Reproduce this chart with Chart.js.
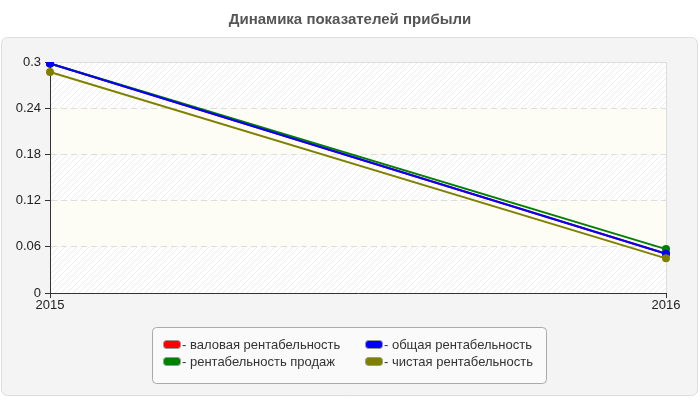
<!DOCTYPE html>
<html>
<head>
<meta charset="utf-8">
<script src="https://cdn.jsdelivr.net/npm/chart.js@4"></script>
<style>
  html, body { margin: 0; padding: 0; background: #fff; }
  #wrap { width: 700px; height: 400px; position: relative; }
</style>
</head>
<body>
<div id="wrap"><canvas id="chart" width="700" height="400"></canvas></div>
<script>
// Динамика показателей прибыли
const titleText = 'Динамика показателей прибыли';
const years = ['2015', '2016'];
const grossMargin = [0.298, 0.051];   // валовая (hidden under blue)
const salesMargin = [0.298, 0.057];   // продаж
const totalMargin = [0.298, 0.051];   // общая
const netMargin = [0.287, 0.045];     // чистая
const yTicks = [0, 0.06, 0.12, 0.18, 0.24, 0.3];

const seriesNames = ['- валовая рентабельность', '- общая рентабельность', '- рентабельность продаж', '- чистая рентабельность'];
const seriesColors = ['#ff0000', '#0000ff', '#008000', '#808000'];

// diagonal hatch for the light bands
function makeHatch() {
    const c = document.createElement('canvas');
    c.width = 6; c.height = 6;
    const g = c.getContext('2d');
    g.fillStyle = '#ffffff';
    g.fillRect(0, 0, 6, 6);
    g.strokeStyle = '#ececec';
    g.lineWidth = 1;
    g.beginPath();
    g.moveTo(-1, 7); g.lineTo(7, -1);
    g.moveTo(-1, 1); g.lineTo(1, -1);
    g.moveTo(5, 7); g.lineTo(7, 5);
    g.stroke();
    return c;
}

// panel, title and striped plot background
const backdrop = {
    id: 'backdrop',
    beforeDraw(chart) {
        const ctx = chart.ctx;
        const area = chart.chartArea;
        const y = chart.scales.y;
        ctx.save();
        ctx.fillStyle = '#ffffff';
        ctx.fillRect(0, 0, chart.width, chart.height);
        ctx.beginPath();
        ctx.roundRect(1.5, 37.5, 696, 358, 6);
        ctx.fillStyle = '#f4f4f4';
        ctx.fill();
        ctx.strokeStyle = '#dddddd';
        ctx.lineWidth = 1;
        ctx.stroke();

        ctx.fillStyle = '#555555';
        ctx.font = 'bold 15px Arial, "Liberation Sans", sans-serif';
        ctx.textAlign = 'center';
        ctx.textBaseline = 'middle';
        ctx.fillText(titleText, 350, 20);

        const hatch = ctx.createPattern(makeHatch(), 'repeat');
        for (let i = 0; i < yTicks.length - 1; i++) {
            const yb = y.getPixelForValue(yTicks[i]);
            const yt = y.getPixelForValue(yTicks[i + 1]);
            ctx.fillStyle = i % 2 === 0 ? hatch : '#fdfdf5';
            ctx.fillRect(area.left, yt, area.right - area.left, yb - yt);
        }
        ctx.strokeStyle = '#dddddd';
        ctx.beginPath();
        ctx.moveTo(Math.round(area.right) + 0.5, area.top);
        ctx.lineTo(Math.round(area.right) + 0.5, area.bottom);
        ctx.moveTo(area.left, Math.round(area.top) + 0.5);
        ctx.lineTo(area.right, Math.round(area.top) + 0.5);
        ctx.stroke();
        ctx.restore();
    },
    afterDraw(chart) {
        // legend box with two columns
        const ctx = chart.ctx;
        ctx.save();
        ctx.beginPath();
        ctx.roundRect(152.5, 327.5, 394, 56, 4);
        ctx.fillStyle = '#fafafa';
        ctx.fill();
        ctx.strokeStyle = '#aaaaaa';
        ctx.lineWidth = 1;
        ctx.stroke();
        ctx.font = '13px Arial, "Liberation Sans", sans-serif';
        ctx.textBaseline = 'middle';
        ctx.textAlign = 'left';
        const cols = [163, 365];
        const rows = [345, 362];
        for (let i = 0; i < seriesNames.length; i++) {
            const x = cols[i % 2];
            const yy = rows[Math.floor(i / 2)];
            ctx.beginPath();
            ctx.roundRect(x + 0.5, yy - 4.5, 17, 8, 3);
            ctx.fillStyle = seriesColors[i];
            ctx.fill();
            ctx.strokeStyle = '#999999';
            ctx.stroke();
            ctx.fillStyle = '#333333';
            ctx.fillText(seriesNames[i], x + 19, yy);
        }
        ctx.restore();
    }
};

function series(label, data, color, order) {
    return {
        label: label,
        data: data,
        borderColor: color,
        backgroundColor: color,
        borderWidth: 2,
        pointRadius: 4,
        pointHoverRadius: 4,
        pointBorderWidth: 0,
        tension: 0,
        order: order
    };
}

new Chart(document.getElementById('chart').getContext('2d'), {
    type: 'line',
    data: {
        labels: years,
        datasets: [
            series(seriesNames[0], grossMargin, seriesColors[0], 3),
            series(seriesNames[1], totalMargin, seriesColors[1], 1),
            series(seriesNames[2], salesMargin, seriesColors[2], 2),
            series(seriesNames[3], netMargin, seriesColors[3], 0)
        ]
    },
    options: {
        responsive: false,
        animation: false,
        events: [],
        layout: { padding: { left: 0, top: 62, right: 34, bottom: 0 } },
        plugins: {
            legend: { display: false },
            title: { display: false },
            tooltip: { enabled: false }
        },
        scales: {
            x: {
                type: 'category',
                offset: false,
                afterFit(scale) { scale.height = 107; },
                grid: {
                    display: true,
                    drawOnChartArea: false,
                    drawTicks: true,
                    tickLength: 5,
                    color: '#333333'
                },
                border: { display: true, color: '#333333', width: 1 },
                ticks: {
                    color: '#222222',
                    font: { size: 13, family: 'Arial, "Liberation Sans", sans-serif' },
                    maxRotation: 0,
                    padding: 0
                }
            },
            y: {
                min: 0,
                max: 0.3,
                afterFit(scale) { scale.width = 50; },
                afterBuildTicks(scale) {
                    scale.ticks = yTicks.map(v => ({ value: v }));
                },
                grid: {
                    color: '#dddddd',
                    drawTicks: true,
                    tickLength: 5,
                    tickColor: '#333333',
                    tickBorderDash: []
                },
                border: { display: true, color: '#333333', width: 1, dash: [6, 4] },
                ticks: {
                    color: '#222222',
                    font: { size: 13, family: 'Arial, "Liberation Sans", sans-serif' },
                    padding: 4,
                    callback: v => String(Math.round(v * 100) / 100)
                }
            }
        }
    },
    plugins: [backdrop]
});
</script>
</body>
</html>
